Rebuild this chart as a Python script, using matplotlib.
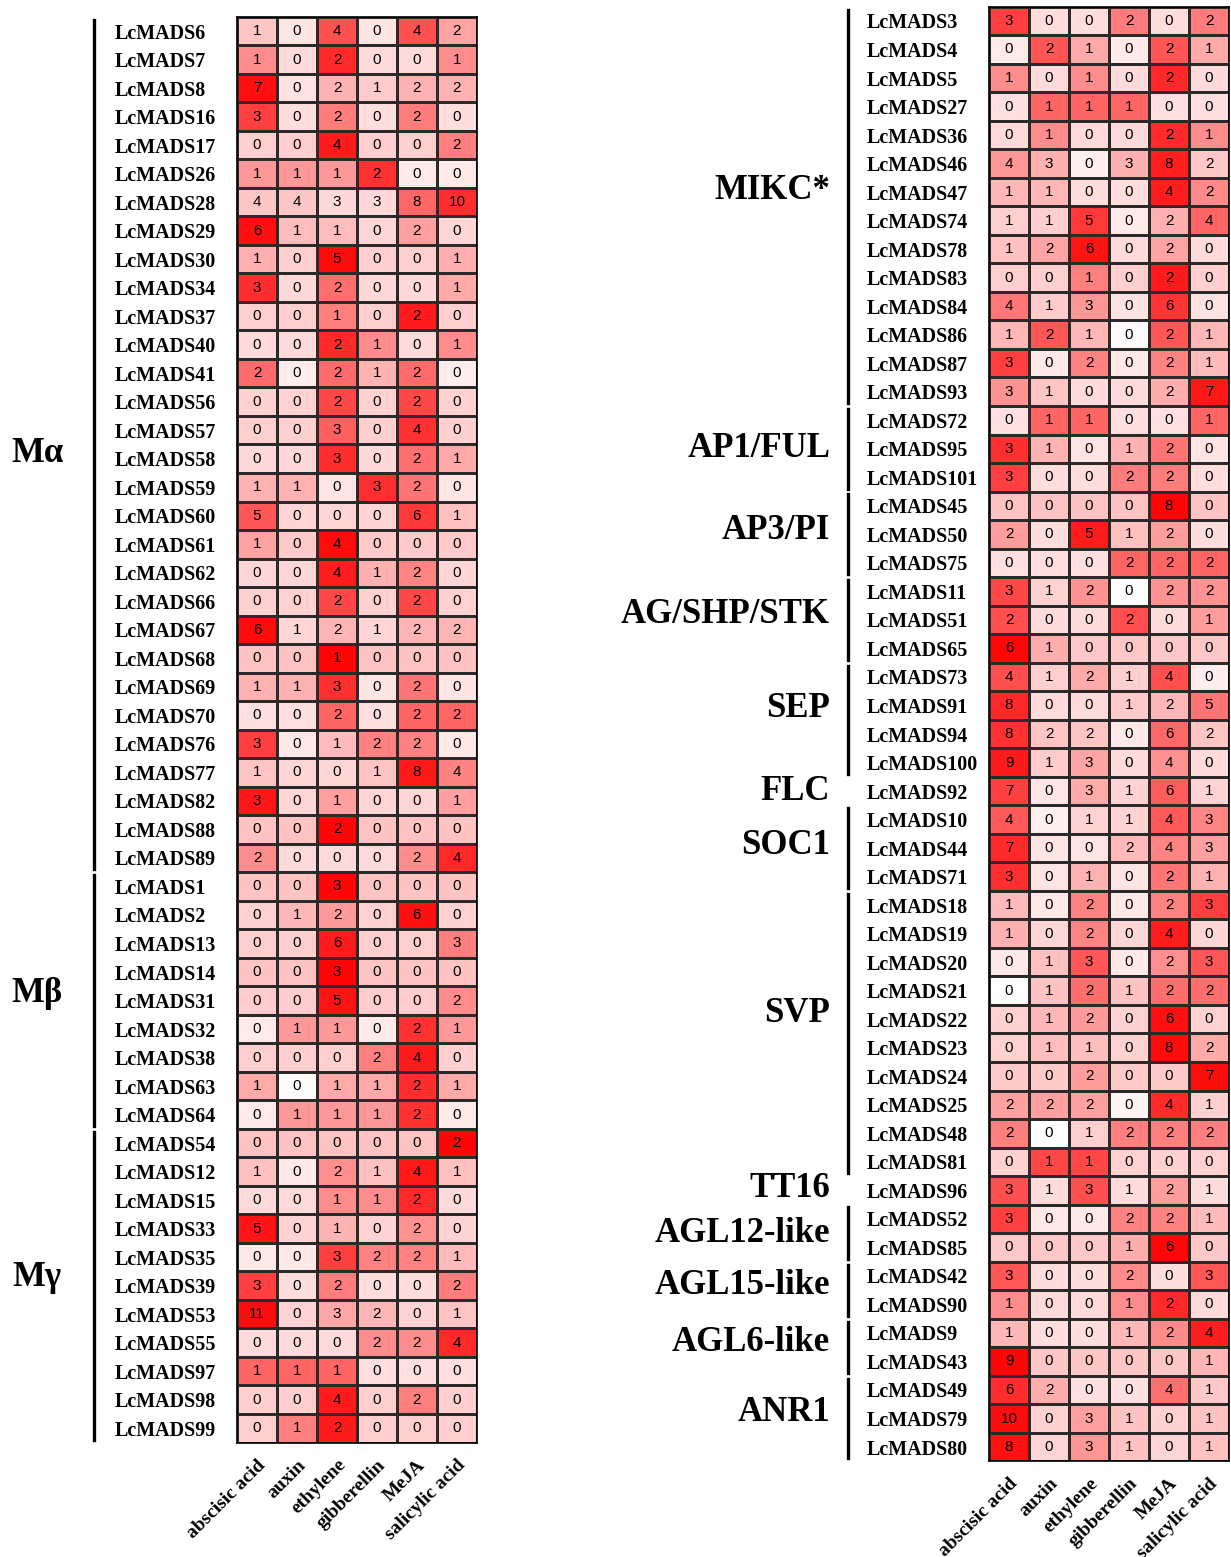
import numpy as np
import matplotlib.pyplot as plt
from matplotlib.colors import LinearSegmentedColormap
from matplotlib.transforms import blended_transform_factory

hormones = ['abscisic acid', 'auxin', 'ethylene', 'gibberellin', 'MeJA', 'salicylic acid']

# ---- left panel groups ----
ma_genes = [6, 7, 8, 16, 17, 26, 28, 29, 30, 34, 37, 40, 41, 56, 57, 58, 59, 60, 61, 62,
            66, 67, 68, 69, 70, 76, 77, 82, 88, 89]
ma_values = [[1, 0, 4, 0, 4, 2], [1, 0, 2, 0, 0, 1], [7, 0, 2, 1, 2, 2], [3, 0, 2, 0, 2, 0],
             [0, 0, 4, 0, 0, 2], [1, 1, 1, 2, 0, 0], [4, 4, 3, 3, 8, 10], [6, 1, 1, 0, 2, 0],
             [1, 0, 5, 0, 0, 1], [3, 0, 2, 0, 0, 1], [0, 0, 1, 0, 2, 0], [0, 0, 2, 1, 0, 1],
             [2, 0, 2, 1, 2, 0], [0, 0, 2, 0, 2, 0], [0, 0, 3, 0, 4, 0], [0, 0, 3, 0, 2, 1],
             [1, 1, 0, 3, 2, 0], [5, 0, 0, 0, 6, 1], [1, 0, 4, 0, 0, 0], [0, 0, 4, 1, 2, 0],
             [0, 0, 2, 0, 2, 0], [6, 1, 2, 1, 2, 2], [0, 0, 1, 0, 0, 0], [1, 1, 3, 0, 2, 0],
             [0, 0, 2, 0, 2, 2], [3, 0, 1, 2, 2, 0], [1, 0, 0, 1, 8, 4], [3, 0, 1, 0, 0, 1],
             [0, 0, 2, 0, 0, 0], [2, 0, 0, 0, 2, 4]]
mb_genes = [1, 2, 13, 14, 31, 32, 38, 63, 64]
mb_values = [[0, 0, 3, 0, 0, 0], [0, 1, 2, 0, 6, 0], [0, 0, 6, 0, 0, 3], [0, 0, 3, 0, 0, 0],
             [0, 0, 5, 0, 0, 2], [0, 1, 1, 0, 2, 1], [0, 0, 0, 2, 4, 0], [1, 0, 1, 1, 2, 1],
             [0, 1, 1, 1, 2, 0]]
mg_genes = [54, 12, 15, 33, 35, 39, 53, 55, 97, 98, 99]
mg_values = [[0, 0, 0, 0, 0, 2], [1, 0, 2, 1, 4, 1], [0, 0, 1, 1, 2, 0], [5, 0, 1, 0, 2, 0],
             [0, 0, 3, 2, 2, 1], [3, 0, 2, 0, 0, 2], [11, 0, 3, 2, 0, 1], [0, 0, 0, 2, 2, 4],
             [1, 1, 1, 0, 0, 0], [0, 0, 4, 0, 2, 0], [0, 1, 2, 0, 0, 0]]

# ---- right panel groups ----
mikc_genes = [3, 4, 5, 27, 36, 46, 47, 74, 78, 83, 84, 86, 87, 93]
mikc_values = [[3, 0, 0, 2, 0, 2], [0, 2, 1, 0, 2, 1], [1, 0, 1, 0, 2, 0], [0, 1, 1, 1, 0, 0],
               [0, 1, 0, 0, 2, 1], [4, 3, 0, 3, 8, 2], [1, 1, 0, 0, 4, 2], [1, 1, 5, 0, 2, 4],
               [1, 2, 6, 0, 2, 0], [0, 0, 1, 0, 2, 0], [4, 1, 3, 0, 6, 0], [1, 2, 1, 0, 2, 1],
               [3, 0, 2, 0, 2, 1], [3, 1, 0, 0, 2, 7]]
ap1_genes = [72, 95, 101]
ap1_values = [[0, 1, 1, 0, 0, 1], [3, 1, 0, 1, 2, 0], [3, 0, 0, 2, 2, 0]]
ap3_genes = [45, 50, 75]
ap3_values = [[0, 0, 0, 0, 8, 0], [2, 0, 5, 1, 2, 0], [0, 0, 0, 2, 2, 2]]
ag_genes = [11, 51, 65]
ag_values = [[3, 1, 2, 0, 2, 2], [2, 0, 0, 2, 0, 1], [6, 1, 0, 0, 0, 0]]
sep_genes = [73, 91, 94, 100]
sep_values = [[4, 1, 2, 1, 4, 0], [8, 0, 0, 1, 2, 5], [8, 2, 2, 0, 6, 2], [9, 1, 3, 0, 4, 0]]
flc_genes = [92]
flc_values = [[7, 0, 3, 1, 6, 1]]
soc1_genes = [10, 44, 71]
soc1_values = [[4, 0, 1, 1, 4, 3], [7, 0, 0, 2, 4, 3], [3, 0, 1, 0, 2, 1]]
svp_genes = [18, 19, 20, 21, 22, 23, 24, 25, 48, 81]
svp_values = [[1, 0, 2, 0, 2, 3], [1, 0, 2, 0, 4, 0], [0, 1, 3, 0, 2, 3], [0, 1, 2, 1, 2, 2],
              [0, 1, 2, 0, 6, 0], [0, 1, 1, 0, 8, 2], [0, 0, 2, 0, 0, 7], [2, 2, 2, 0, 4, 1],
              [2, 0, 1, 2, 2, 2], [0, 1, 1, 0, 0, 0]]
tt16_genes = [96]
tt16_values = [[3, 1, 3, 1, 2, 1]]
agl12_genes = [52, 85]
agl12_values = [[3, 0, 0, 2, 2, 1], [0, 0, 0, 1, 6, 0]]
agl15_genes = [42, 90]
agl15_values = [[3, 0, 0, 2, 0, 3], [1, 0, 0, 1, 2, 0]]
agl6_genes = [9, 43]
agl6_values = [[1, 0, 0, 1, 2, 4], [9, 0, 0, 0, 0, 1]]
anr1_genes = [49, 79, 80]
anr1_values = [[6, 2, 0, 0, 4, 1], [10, 0, 3, 1, 0, 1], [8, 0, 3, 1, 0, 1]]

left_groups = [('Mα', ma_genes, ma_values), ('Mβ', mb_genes, mb_values),
               ('Mγ', mg_genes, mg_values)]
right_groups = [('MIKC*', mikc_genes, mikc_values), ('AP1/FUL', ap1_genes, ap1_values),
                ('AP3/PI', ap3_genes, ap3_values), ('AG/SHP/STK', ag_genes, ag_values),
                ('SEP', sep_genes, sep_values), ('FLC', flc_genes, flc_values),
                ('SOC1', soc1_genes, soc1_values), ('SVP', svp_genes, svp_values),
                ('TT16', tt16_genes, tt16_values), ('AGL12-like', agl12_genes, agl12_values),
                ('AGL15-like', agl15_genes, agl15_values), ('AGL6-like', agl6_genes, agl6_values),
                ('ANR1', anr1_genes, anr1_values)]
# small vertical nudges (in rows) for the group names
left_nudge = [0.3, -0.25, -0.3]
right_nudge = [-0.55, 0, -0.15, -0.2, -0.4, 0, -0.1, -0.7, -0.05, 0, -0.15, -0.15, -0.2]

W, H = 1231, 1557
SERIF = 'Liberation Serif'
cmap = LinearSegmentedColormap.from_list('wr', ['#FFFFFF', '#FF0000'])


def row_scale(vals):
    # row z-score, mapped onto white -> red
    v = np.asarray(vals, float)
    z = (v - v.mean(1, keepdims=True)) / v.std(1, ddof=1, keepdims=True)
    return np.clip((z + 1.8) / 3.9, 0, 1) ** 1.4


def draw_panel(fig, groups, nudge, left, top, bottom, bar_x, label_x, label_ha):
    genes = [g for _, gl, _ in groups for g in gl]
    vals = np.array([r for _, _, vl in groups for r in vl])
    n = len(genes)
    ax = fig.add_axes([left / W, 1 - bottom / H, 240 / W, (bottom - top) / H])
    ax.pcolormesh(np.arange(7), np.arange(n + 1), row_scale(vals), cmap=cmap,
                  vmin=0, vmax=1, edgecolors='#2a2a2a', linewidth=0.8)
    for i in range(n):
        for j in range(6):
            ax.text(j + 0.5, i + 0.5, str(vals[i, j]), ha='center', va='center',
                    fontsize=11, family='Liberation Sans')
    ax.set_xlim(0, 6)
    ax.set_ylim(n, 0)
    ax.set_yticks(np.arange(n) + 0.5)
    ax.set_yticklabels([f'LcMADS{g}' for g in genes], ha='left', fontsize=14.4,
                       fontweight='bold', family=SERIF)
    ax.tick_params(axis='y', length=0, pad=88)
    ax.set_xticks(np.arange(6) + 0.5)
    ax.set_xticklabels(hormones, rotation=45, ha='right', va='top', rotation_mode='anchor',
                       fontsize=14, fontweight='bold', family=SERIF)
    ax.tick_params(axis='x', length=0, pad=10)
    for s in ax.spines.values():
        s.set_linewidth(1.2)

    tr = blended_transform_factory(fig.transFigure, ax.transData)
    start = 0
    for (name, gl, _), dy in zip(groups, nudge):
        k = len(gl)
        if k > 1:
            ax.plot([bar_x / W] * 2, [start + 0.1, start + k - 0.1], color='black',
                    lw=2.4, transform=tr, clip_on=False)
        ax.text(label_x / W, start + k / 2 + dy, name, transform=tr, ha=label_ha,
                va='center', fontsize=25, fontweight='bold', family=SERIF)
        start += k
    return ax


fig = plt.figure(figsize=(W / 100, H / 100), dpi=100)
draw_panel(fig, left_groups, left_nudge, 237, 16.75, 1442.5, 94, 37, 'center')
draw_panel(fig, right_groups, right_nudge, 989, 6.7, 1461.3, 848, 830, 'right')
fig.savefig('out.png', dpi=100)
